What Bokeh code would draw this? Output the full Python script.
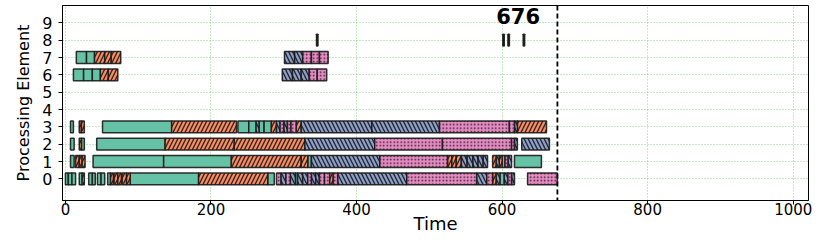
from bokeh.plotting import figure
from bokeh.models import Span, Range1d, FixedTicker, ColumnDataSource, Label
from bokeh.embed import file_html
from bokeh.resources import INLINE

# kinds: A = green phase, B = orange phase, C = blue phase, D = pink phase, T = tiny marker
row0_start = [0, 4, 9, 19, 23, 32, 37, 44, 49, 58, 62, 67, 72, 78, 84, 89, 183, 278, 290, 296, 303, 309, 316, 319, 326, 333, 338, 344, 349, 356, 363, 368, 374, 469, 565, 579, 587, 592, 597, 603, 608, 613, 635]
row0_end   = [4, 9, 14, 23, 26, 37, 41, 49, 54, 62, 66, 72, 77, 84, 89, 183, 278, 287, 296, 303, 309, 316, 319, 326, 333, 338, 344, 349, 356, 363, 368, 374, 469, 565, 579, 587, 592, 597, 603, 608, 613, 617, 676]
row0_kind  = ["A", "A", "A", "A", "B", "A", "A", "A", "A", "A", "B", "B", "B", "B", "B", "A", "B", "A", "D", "C", "D", "C", "A", "C", "C", "D", "C", "C", "D", "D", "B", "D", "C", "D", "C", "D", "B", "C", "A", "C", "D", "C", "D"]

row1_start = [7, 14, 19, 23, 38, 135, 228, 324, 333, 338, 432, 525, 531, 537, 544, 552, 560, 567, 574, 587, 592, 596, 600, 604, 608, 617]
row1_end   = [12, 19, 23, 27, 135, 228, 324, 333, 338, 432, 525, 531, 537, 544, 552, 560, 567, 574, 580, 592, 596, 600, 604, 608, 613, 654]
row1_kind  = ["A", "B", "B", "B", "A", "A", "B", "B", "A", "C", "D", "B", "B", "B", "C", "C", "C", "C", "C", "B", "C", "B", "A", "D", "C", "A"]

row2_start = [7, 19, 22, 43, 137, 232, 329, 425, 518, 613, 617, 627]
row2_end   = [12, 22, 26, 137, 232, 329, 425, 518, 613, 617, 621, 665]
row2_kind  = ["A", "B", "A", "A", "B", "B", "C", "D", "D", "D", "C", "C"]

row3_start = [7, 19, 22, 51, 146, 237, 252, 262, 266, 273, 283, 290, 295, 300, 305, 310, 317, 324, 421, 514, 610, 617, 621]
row3_end   = [11, 22, 26, 146, 235, 252, 262, 266, 273, 283, 290, 295, 300, 305, 310, 317, 324, 421, 514, 610, 617, 621, 661]
row3_kind  = ["A", "B", "B", "A", "B", "A", "A", "C", "A", "A", "B", "C", "D", "C", "D", "D", "B", "C", "C", "D", "D", "C", "B"]

row6_start = [11, 25, 37, 48, 59, 298, 312, 324, 335, 346]
row6_end   = [25, 37, 48, 59, 72, 312, 324, 335, 346, 359]
row6_kind  = ["A", "A", "A", "B", "B", "C", "C", "C", "D", "D"]

row7_start = [15, 29, 40, 54, 63, 301, 315, 326, 338, 349]
row7_end   = [29, 40, 54, 63, 76, 315, 326, 338, 349, 361]
row7_kind  = ["A", "A", "B", "B", "B", "C", "C", "D", "D", "D"]

row8_start = [345, 601, 608, 629]
row8_end   = [347, 603, 610, 631]
row8_kind  = ["T", "T", "T", "T"]

pe_ticks = [0, 1, 2, 3, 4, 5, 6, 7, 8, 9]
time_ticks = [0, 200, 400, 600, 800, 1000]
makespan = 676
makespan_label = "676"

rows = {0: (row0_start, row0_end, row0_kind),
        1: (row1_start, row1_end, row1_kind),
        2: (row2_start, row2_end, row2_kind),
        3: (row3_start, row3_end, row3_kind),
        6: (row6_start, row6_end, row6_kind),
        7: (row7_start, row7_end, row7_kind),
        8: (row8_start, row8_end, row8_kind)}

styles = {
    "A": dict(fill_color="#66c2a5", hatch_pattern=" ", scale=8, weight=1.0),
    "B": dict(fill_color="#fc8d62", hatch_pattern="/", scale=8, weight=1.4),
    "C": dict(fill_color="#8da0cb", hatch_pattern="\\", scale=8, weight=1.4),
    "D": dict(fill_color="#e78ac3", hatch_pattern=".", scale=3.5, weight=1.7),
    "T": dict(fill_color="#111111", hatch_pattern=" ", scale=8, weight=1.0),
}

FONT = "DejaVu Sans"
H = 0.34

p = figure(width=826, height=240, output_backend="svg", toolbar_location=None,
           x_range=Range1d(-4, 1021), y_range=Range1d(-1.25, 10.0),
           min_border_left=62, min_border_right=18, min_border_top=5, min_border_bottom=40)

for k, st in styles.items():
    L, R, B, T = [], [], [], []
    for pe, (s, e, kk) in rows.items():
        for a, b, c in zip(s, e, kk):
            if c == k:
                L.append(a); R.append(b); B.append(pe - H); T.append(pe + H)
    if not L:
        continue
    src = ColumnDataSource(dict(left=L, right=R, bottom=B, top=T))
    p.quad(left="left", right="right", bottom="bottom", top="top", source=src,
           fill_color=st["fill_color"], hatch_pattern=st["hatch_pattern"],
           hatch_color="#1a1a1a", hatch_alpha=0.9, hatch_scale=st["scale"],
           hatch_weight=st["weight"], line_color="#1a1a1a", line_width=1.5, line_alpha=0.9)

p.add_layout(Span(location=makespan, dimension="height", line_color="black",
                  line_dash="5 3", line_width=1.8))
p.add_layout(Label(x=makespan - 54, y=9.4, text=makespan_label, text_font=FONT,
                   text_font_size="21px", text_font_style="bold", text_align="center",
                   text_baseline="middle", text_color="black"))

p.xaxis.ticker = FixedTicker(ticks=time_ticks)
p.yaxis.ticker = FixedTicker(ticks=pe_ticks)
p.xaxis.axis_label = "Time"
p.yaxis.axis_label = "Processing Element"
for ax in (p.xaxis, p.yaxis):
    ax.axis_label_text_font = FONT
    ax.axis_label_text_font_style = "normal"
    ax.major_label_text_font = FONT
    ax.major_label_text_color = "black"
    ax.axis_label_text_color = "black"
    ax.minor_tick_line_color = None
    ax.major_tick_in = 0
    ax.major_tick_out = 4
    ax.axis_line_color = "black"
p.xaxis.major_label_text_font_size = "15px"
p.yaxis.major_label_text_font_size = "16px"
p.xaxis.axis_label_text_font_size = "18px"
p.yaxis.axis_label_text_font_size = "16px"
p.xaxis.major_label_standoff = -2
p.xaxis.axis_label_standoff = -5
p.yaxis.major_label_standoff = 6
p.yaxis.axis_label_standoff = 6

p.xgrid.ticker = FixedTicker(ticks=time_ticks)
p.ygrid.ticker = FixedTicker(ticks=pe_ticks)
for g in (p.xgrid, p.ygrid):
    g.grid_line_color = "#7ccf7c"
    g.grid_line_dash = "1 2"
    g.grid_line_width = 1
    g.grid_line_alpha = 0.9

p.outline_line_color = "black"
p.outline_line_width = 1
p.outline_line_alpha = 1
p.background_fill_color = "white"

open("out.html", "w").write(file_html(p, INLINE))
